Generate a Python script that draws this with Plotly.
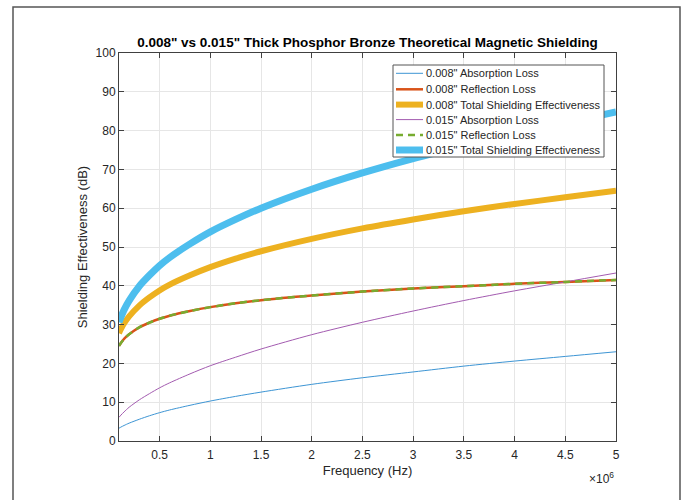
import plotly.graph_objects as go

# Frequencies (Hz)
freq = [0.1e6, 0.12e6, 0.15e6, 0.2e6, 0.3e6, 0.4e6, 0.5e6, 0.6e6, 0.8e6, 1.0e6,
        1.25e6, 1.5e6, 2.0e6, 2.5e6, 3.0e6, 3.5e6, 4.0e6, 4.5e6, 5.0e6]

# Values (dB)
abs_008 = [3.3, 3.6, 4.0, 4.6, 5.6, 6.5, 7.3, 8.0, 9.2, 10.3,
           11.5, 12.6, 14.6, 16.3, 17.8, 19.3, 20.6, 21.8, 23.0]
refl_008 = [24.5, 25.3, 26.3, 27.5, 29.3, 30.5, 31.5, 32.3, 33.5, 34.5,
            35.5, 36.3, 37.5, 38.5, 39.3, 39.9, 40.5, 41.0, 41.5]
total_008 = [27.8, 28.9, 30.3, 32.1, 34.9, 37.0, 38.8, 40.3, 42.7, 44.8,
             47.0, 48.9, 52.1, 54.8, 57.1, 59.2, 61.1, 62.8, 64.5]
abs_015 = [6.1, 6.7, 7.5, 8.7, 10.6, 12.2, 13.7, 15.0, 17.3, 19.4,
           21.6, 23.7, 27.4, 30.6, 33.5, 36.2, 38.7, 41.0, 43.3]
refl_015 = [24.5, 25.3, 26.3, 27.5, 29.3, 30.5, 31.5, 32.3, 33.5, 34.5,
            35.5, 36.3, 37.5, 38.5, 39.3, 39.9, 40.5, 41.0, 41.5]
total_015 = [30.6, 32.0, 33.8, 36.2, 39.9, 42.7, 45.2, 47.3, 50.8, 53.9,
             57.1, 60.0, 64.9, 69.1, 72.8, 76.1, 79.2, 82.0, 84.8]

names = ['0.008" Absorption Loss', '0.008" Reflection Loss',
         '0.008" Total Shielding Effectiveness', '0.015" Absorption Loss',
         '0.015" Reflection Loss', '0.015" Total Shielding Effectiveness']
colors = ['#3d95d4', '#D95319', '#EDB120', '#a35bb0', '#77AC30', '#4DBEEE']
widths = [1, 2.5, 6, 1, 2.5, 7]
dashes = ['solid', 'solid', 'solid', 'solid', '7px,5px', 'solid']
series = [abs_008, refl_008, total_008, abs_015, refl_015, total_015]

xticks = [0.5e6, 1e6, 1.5e6, 2e6, 2.5e6, 3e6, 3.5e6, 4e6, 4.5e6, 5e6]
xticktext = ['0.5', '1', '1.5', '2', '2.5', '3', '3.5', '4', '4.5', '5']

W, H = 686, 500
L, R, T, B = 119, 616, 53, 441

fig = go.Figure()
for name, ys, c, w, d in zip(names, series, colors, widths, dashes):
    fig.add_trace(go.Scatter(x=freq, y=ys, mode='lines', name=name,
                             line=dict(color=c, width=w, dash=d,
                                       shape='spline', smoothing=0.8),
                             showlegend=False))

def px(x):
    return (x - L) / (R - L)

def py(y):
    return (B - y) / (B - T)

shapes = []
annotations = []
# outer frame
shapes.append(dict(type='rect', xref='paper', yref='paper',
                   x0=px(13), x1=px(680), y0=py(512), y1=py(7),
                   line=dict(color='#555555', width=1.5), fillcolor='rgba(0,0,0,0)', layer='below'))
# legend box
lx0, lx1, ly0, ly1 = 393, 604, 65, 157
shapes.append(dict(type='rect', xref='paper', yref='paper',
                   x0=px(lx0), x1=px(lx1), y0=py(ly1), y1=py(ly0),
                   line=dict(color='#555555', width=1), fillcolor='white', layer='above'))
rows = [73.3, 89.3, 104.6, 119.6, 135, 150]
for name, c, w, d, ry in zip(names, colors, widths, dashes, rows):
    shapes.append(dict(type='line', xref='paper', yref='paper',
                       x0=px(396), x1=px(423), y0=py(ry), y1=py(ry),
                       line=dict(color=c, width=w, dash=d),
                       layer='above'))
    annotations.append(dict(text=name, xref='paper', yref='paper',
                            x=px(424), y=py(ry), xanchor='left', yanchor='middle',
                            showarrow=False, font=dict(size=11, color='#262626')))

annotations.append(dict(text='\u00d710<sup>6</sup>', xref='paper', yref='paper',
                        x=px(616), y=py(478), xanchor='right', yanchor='middle',
                        showarrow=False, font=dict(size=12, color='#262626')))

axis_common = dict(showline=True, linecolor='#404040', linewidth=1, mirror='ticks',
                   ticks='inside', ticklen=5, tickcolor='#404040',
                   showgrid=True, gridcolor='#e6e6e6', gridwidth=1, zeroline=False,
                   tickfont=dict(size=12, color='#262626'))

fig.update_layout(
    width=W, height=H,
    margin=dict(l=L, r=W - R, t=T, b=H - B, pad=0),
    paper_bgcolor='white', plot_bgcolor='white',
    font=dict(family='Liberation Sans, Arial, sans-serif', color='#262626'),
    title=dict(text='<b>0.008" vs 0.015" Thick Phosphor Bronze Theoretical Magnetic Shielding</b>',
               x=(L + R) / 2 / W, xanchor='center', y=1 - 42 / H, yanchor='middle',
               font=dict(size=13.5, color='#000000')),
    xaxis=dict(range=[0.1e6, 5e6], tickvals=xticks, ticktext=xticktext,
               ticklabelstandoff=3,
               title=dict(text='Frequency (Hz)', font=dict(size=13), standoff=4),
               **axis_common),
    yaxis=dict(range=[0, 100], dtick=10,
               title=dict(text='Shielding Effectiveness (dB)', font=dict(size=13), standoff=5),
               **axis_common),
    shapes=shapes, annotations=annotations, showlegend=False,
)

fig.write_html('out.html')
